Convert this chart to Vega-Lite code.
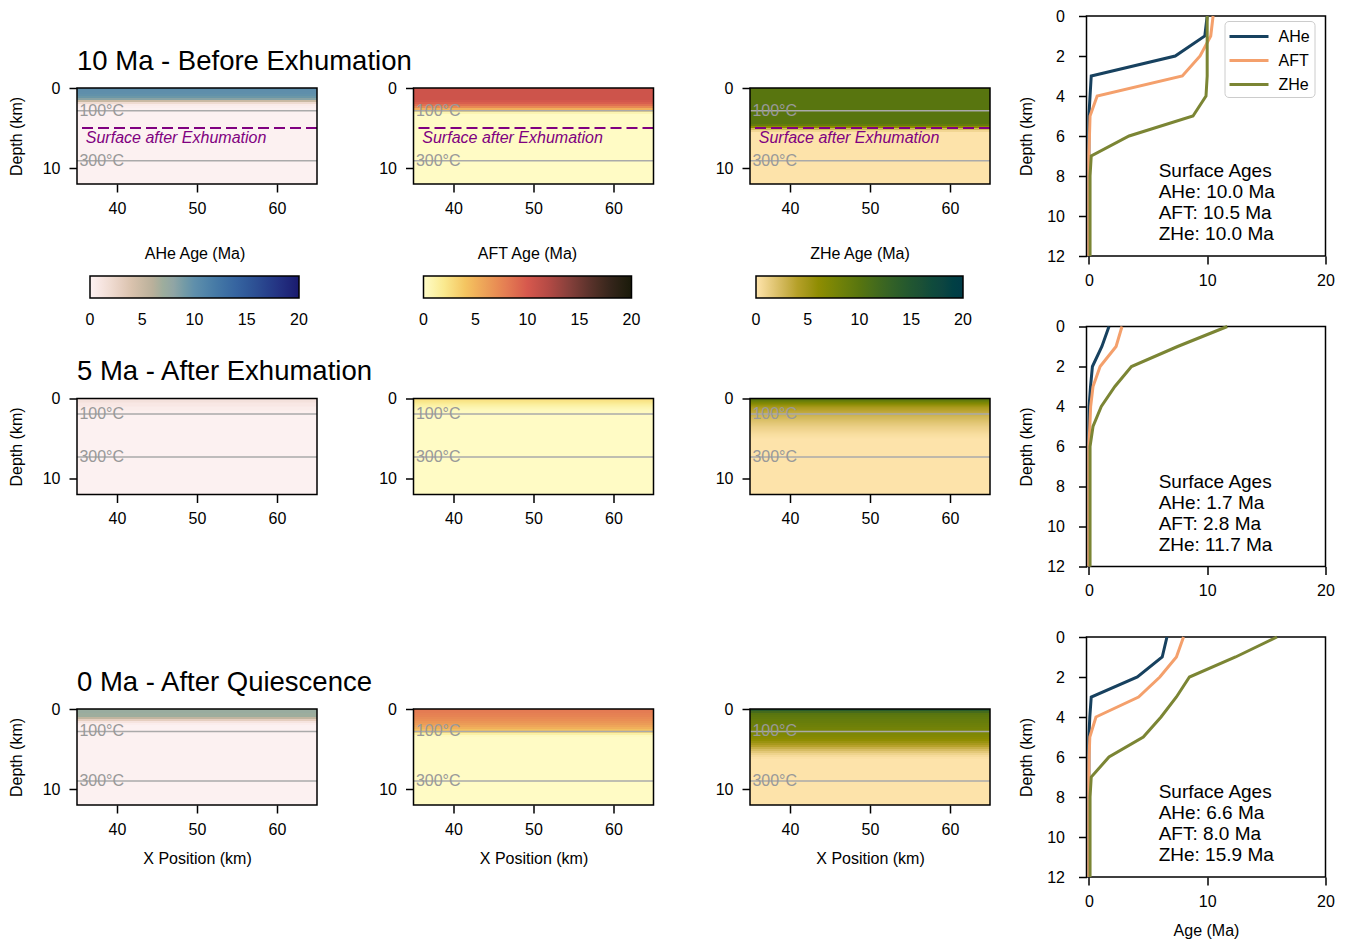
{
  "$schema": "https://vega.github.io/schema/vega-lite/v6.json",
  "background": "white",
  "padding": {"left": 8, "top": 7, "right": 5, "bottom": 5},
  "datasets": {
    "cells": [
      {"t":"10","s":"AHe","d0":0,"d1":0.25,"a":10.2},
      {"t":"10","s":"AHe","d0":0.25,"d1":0.5,"a":10.1},
      {"t":"10","s":"AHe","d0":0.5,"d1":0.75,"a":10},
      {"t":"10","s":"AHe","d0":0.75,"d1":1,"a":9.8},
      {"t":"10","s":"AHe","d0":1,"d1":1.25,"a":9.4},
      {"t":"10","s":"AHe","d0":1.25,"d1":1.5,"a":8.3},
      {"t":"10","s":"AHe","d0":1.5,"d1":1.75,"a":5},
      {"t":"10","s":"AHe","d0":1.75,"d1":2,"a":2},
      {"t":"10","s":"AHe","d0":2,"d1":2.25,"a":0.6},
      {"t":"10","s":"AHe","d0":2.25,"d1":2.5,"a":0.3},
      {"t":"10","s":"AHe","d0":2.5,"d1":12,"a":0.1},
      {"t":"10","s":"AFT","d0":0,"d1":1.5,"a":10.5},
      {"t":"10","s":"AFT","d0":1.5,"d1":1.75,"a":10.2},
      {"t":"10","s":"AFT","d0":1.75,"d1":2,"a":9.6},
      {"t":"10","s":"AFT","d0":2,"d1":2.25,"a":8.6},
      {"t":"10","s":"AFT","d0":2.25,"d1":2.5,"a":7.2},
      {"t":"10","s":"AFT","d0":2.5,"d1":2.75,"a":5.2},
      {"t":"10","s":"AFT","d0":2.75,"d1":3,"a":2.5},
      {"t":"10","s":"AFT","d0":3,"d1":3.25,"a":0.8},
      {"t":"10","s":"AFT","d0":3.25,"d1":12,"a":0.1},
      {"t":"10","s":"ZHe","d0":0,"d1":4.5,"a":10},
      {"t":"10","s":"ZHe","d0":4.5,"d1":4.75,"a":9},
      {"t":"10","s":"ZHe","d0":4.75,"d1":5,"a":6},
      {"t":"10","s":"ZHe","d0":5,"d1":5.25,"a":2.5},
      {"t":"10","s":"ZHe","d0":5.25,"d1":5.5,"a":0.8},
      {"t":"10","s":"ZHe","d0":5.5,"d1":12,"a":0.1},
      {"t":"5","s":"AHe","d0":0,"d1":0.5,"a":1.4},
      {"t":"5","s":"AHe","d0":0.5,"d1":1,"a":0.9},
      {"t":"5","s":"AHe","d0":1,"d1":1.5,"a":0.5},
      {"t":"5","s":"AHe","d0":1.5,"d1":2,"a":0.25},
      {"t":"5","s":"AHe","d0":2,"d1":12,"a":0.1},
      {"t":"5","s":"AFT","d0":0,"d1":0.25,"a":2.6},
      {"t":"5","s":"AFT","d0":0.25,"d1":0.5,"a":2.2},
      {"t":"5","s":"AFT","d0":0.5,"d1":0.75,"a":1.7},
      {"t":"5","s":"AFT","d0":0.75,"d1":1,"a":1.2},
      {"t":"5","s":"AFT","d0":1,"d1":1.25,"a":0.8},
      {"t":"5","s":"AFT","d0":1.25,"d1":1.5,"a":0.5},
      {"t":"5","s":"AFT","d0":1.5,"d1":2,"a":0.3},
      {"t":"5","s":"AFT","d0":2,"d1":12,"a":0.1},
      {"t":"5","s":"ZHe","d0":0,"d1":0.25,"a":10},
      {"t":"5","s":"ZHe","d0":0.25,"d1":0.5,"a":8.3},
      {"t":"5","s":"ZHe","d0":0.5,"d1":0.75,"a":6.8},
      {"t":"5","s":"ZHe","d0":0.75,"d1":1,"a":5.5},
      {"t":"5","s":"ZHe","d0":1,"d1":1.25,"a":4.6},
      {"t":"5","s":"ZHe","d0":1.25,"d1":1.5,"a":4},
      {"t":"5","s":"ZHe","d0":1.5,"d1":1.75,"a":3.6},
      {"t":"5","s":"ZHe","d0":1.75,"d1":2,"a":3.2},
      {"t":"5","s":"ZHe","d0":2,"d1":2.25,"a":2.85},
      {"t":"5","s":"ZHe","d0":2.25,"d1":2.5,"a":2.5},
      {"t":"5","s":"ZHe","d0":2.5,"d1":2.75,"a":2.2},
      {"t":"5","s":"ZHe","d0":2.75,"d1":3,"a":1.9},
      {"t":"5","s":"ZHe","d0":3,"d1":3.25,"a":1.6},
      {"t":"5","s":"ZHe","d0":3.25,"d1":3.5,"a":1.35},
      {"t":"5","s":"ZHe","d0":3.5,"d1":3.75,"a":1.1},
      {"t":"5","s":"ZHe","d0":3.75,"d1":4,"a":0.9},
      {"t":"5","s":"ZHe","d0":4,"d1":4.25,"a":0.7},
      {"t":"5","s":"ZHe","d0":4.25,"d1":4.5,"a":0.5},
      {"t":"5","s":"ZHe","d0":4.5,"d1":4.75,"a":0.35},
      {"t":"5","s":"ZHe","d0":4.75,"d1":5,"a":0.22},
      {"t":"5","s":"ZHe","d0":5,"d1":12,"a":0.1},
      {"t":"0","s":"AHe","d0":0,"d1":0.5,"a":7.2},
      {"t":"0","s":"AHe","d0":0.5,"d1":1,"a":7},
      {"t":"0","s":"AHe","d0":1,"d1":1.25,"a":5.5},
      {"t":"0","s":"AHe","d0":1.25,"d1":1.5,"a":3},
      {"t":"0","s":"AHe","d0":1.5,"d1":1.75,"a":1.2},
      {"t":"0","s":"AHe","d0":1.75,"d1":2,"a":0.4},
      {"t":"0","s":"AHe","d0":2,"d1":12,"a":0.1},
      {"t":"0","s":"AFT","d0":0,"d1":0.25,"a":8.1},
      {"t":"0","s":"AFT","d0":0.25,"d1":0.5,"a":8},
      {"t":"0","s":"AFT","d0":0.5,"d1":0.75,"a":7.8},
      {"t":"0","s":"AFT","d0":0.75,"d1":1,"a":7.6},
      {"t":"0","s":"AFT","d0":1,"d1":1.25,"a":7.3},
      {"t":"0","s":"AFT","d0":1.25,"d1":1.5,"a":7},
      {"t":"0","s":"AFT","d0":1.5,"d1":1.75,"a":6.6},
      {"t":"0","s":"AFT","d0":1.75,"d1":2,"a":6.2},
      {"t":"0","s":"AFT","d0":2,"d1":2.25,"a":5.7},
      {"t":"0","s":"AFT","d0":2.25,"d1":2.5,"a":5.1},
      {"t":"0","s":"AFT","d0":2.5,"d1":2.75,"a":4.3},
      {"t":"0","s":"AFT","d0":2.75,"d1":3,"a":3},
      {"t":"0","s":"AFT","d0":3,"d1":3.25,"a":1.2},
      {"t":"0","s":"AFT","d0":3.25,"d1":3.5,"a":0.3},
      {"t":"0","s":"AFT","d0":3.5,"d1":12,"a":0.1},
      {"t":"0","s":"ZHe","d0":0,"d1":0.25,"a":14},
      {"t":"0","s":"ZHe","d0":0.25,"d1":0.5,"a":11.5},
      {"t":"0","s":"ZHe","d0":0.5,"d1":0.75,"a":10},
      {"t":"0","s":"ZHe","d0":0.75,"d1":1,"a":9.6},
      {"t":"0","s":"ZHe","d0":1,"d1":1.25,"a":9.3},
      {"t":"0","s":"ZHe","d0":1.25,"d1":1.5,"a":9},
      {"t":"0","s":"ZHe","d0":1.5,"d1":1.75,"a":8.8},
      {"t":"0","s":"ZHe","d0":1.75,"d1":2,"a":8.5},
      {"t":"0","s":"ZHe","d0":2,"d1":2.25,"a":8.3},
      {"t":"0","s":"ZHe","d0":2.25,"d1":2.5,"a":8},
      {"t":"0","s":"ZHe","d0":2.5,"d1":2.75,"a":7.8},
      {"t":"0","s":"ZHe","d0":2.75,"d1":3,"a":7.5},
      {"t":"0","s":"ZHe","d0":3,"d1":3.25,"a":7.2},
      {"t":"0","s":"ZHe","d0":3.25,"d1":3.5,"a":6.9},
      {"t":"0","s":"ZHe","d0":3.5,"d1":3.75,"a":6.5},
      {"t":"0","s":"ZHe","d0":3.75,"d1":4,"a":6},
      {"t":"0","s":"ZHe","d0":4,"d1":4.25,"a":5.4},
      {"t":"0","s":"ZHe","d0":4.25,"d1":4.5,"a":4.7},
      {"t":"0","s":"ZHe","d0":4.5,"d1":4.75,"a":3.9},
      {"t":"0","s":"ZHe","d0":4.75,"d1":5,"a":3.1},
      {"t":"0","s":"ZHe","d0":5,"d1":5.25,"a":2.3},
      {"t":"0","s":"ZHe","d0":5.25,"d1":5.5,"a":1.6},
      {"t":"0","s":"ZHe","d0":5.5,"d1":5.75,"a":1},
      {"t":"0","s":"ZHe","d0":5.75,"d1":6,"a":0.55},
      {"t":"0","s":"ZHe","d0":6,"d1":6.25,"a":0.25},
      {"t":"0","s":"ZHe","d0":6.25,"d1":12,"a":0.1}
    ],
    "iso": [
      {"t":"10","depth":2.85,"label":"100°C"},
      {"t":"10","depth":9.1,"label":"300°C"},
      {"t":"5","depth":1.95,"label":"100°C"},
      {"t":"5","depth":7.3,"label":"300°C"},
      {"t":"0","depth":2.8,"label":"100°C"},
      {"t":"0","depth":9.0,"label":"300°C"}
    ],
    "exh": [
      {"t":"10","depth":5,"label":"Surface after Exhumation"}
    ],
    "frame": [
      {"x0":35,"x1":65,"y0":0,"y1":12}
    ],
    "prof": [
      {"t":"10","s":"AHe","d":0,"a":10.0},{"t":"10","s":"AHe","d":1,"a":9.8},{"t":"10","s":"AHe","d":2,"a":7.3},{"t":"10","s":"AHe","d":3,"a":0.2},{"t":"10","s":"AHe","d":4,"a":0.1},{"t":"10","s":"AHe","d":5,"a":0},{"t":"10","s":"AHe","d":6,"a":0},{"t":"10","s":"AHe","d":7,"a":0},{"t":"10","s":"AHe","d":8,"a":0},{"t":"10","s":"AHe","d":9,"a":0},{"t":"10","s":"AHe","d":10,"a":0},{"t":"10","s":"AHe","d":11,"a":0},{"t":"10","s":"AHe","d":12,"a":0},
      {"t":"10","s":"AFT","d":0,"a":10.5},{"t":"10","s":"AFT","d":1,"a":10.3},{"t":"10","s":"AFT","d":2,"a":9.4},{"t":"10","s":"AFT","d":3,"a":7.9},{"t":"10","s":"AFT","d":4,"a":0.7},{"t":"10","s":"AFT","d":5,"a":0.1},{"t":"10","s":"AFT","d":6,"a":0.05},{"t":"10","s":"AFT","d":7,"a":0},{"t":"10","s":"AFT","d":8,"a":0},{"t":"10","s":"AFT","d":9,"a":0},{"t":"10","s":"AFT","d":10,"a":0},{"t":"10","s":"AFT","d":11,"a":0},{"t":"10","s":"AFT","d":12,"a":0},
      {"t":"10","s":"ZHe","d":0,"a":10.0},{"t":"10","s":"ZHe","d":1,"a":10.0},{"t":"10","s":"ZHe","d":2,"a":10.0},{"t":"10","s":"ZHe","d":3,"a":10.0},{"t":"10","s":"ZHe","d":4,"a":9.9},{"t":"10","s":"ZHe","d":5,"a":8.8},{"t":"10","s":"ZHe","d":6,"a":3.4},{"t":"10","s":"ZHe","d":7,"a":0.2},{"t":"10","s":"ZHe","d":8,"a":0.1},{"t":"10","s":"ZHe","d":9,"a":0.1},{"t":"10","s":"ZHe","d":10,"a":0.1},{"t":"10","s":"ZHe","d":11,"a":0.1},{"t":"10","s":"ZHe","d":12,"a":0.1},
      {"t":"5","s":"AHe","d":0,"a":1.7},{"t":"5","s":"AHe","d":1,"a":1.1},{"t":"5","s":"AHe","d":2,"a":0.3},{"t":"5","s":"AHe","d":3,"a":0.14},{"t":"5","s":"AHe","d":4,"a":0.02},{"t":"5","s":"AHe","d":5,"a":0},{"t":"5","s":"AHe","d":6,"a":0},{"t":"5","s":"AHe","d":7,"a":0},{"t":"5","s":"AHe","d":8,"a":0},{"t":"5","s":"AHe","d":9,"a":0},{"t":"5","s":"AHe","d":10,"a":0},{"t":"5","s":"AHe","d":11,"a":0},{"t":"5","s":"AHe","d":12,"a":0},
      {"t":"5","s":"AFT","d":0,"a":2.8},{"t":"5","s":"AFT","d":1,"a":2.3},{"t":"5","s":"AFT","d":2,"a":0.95},{"t":"5","s":"AFT","d":3,"a":0.35},{"t":"5","s":"AFT","d":4,"a":0.15},{"t":"5","s":"AFT","d":5,"a":0.08},{"t":"5","s":"AFT","d":6,"a":0},{"t":"5","s":"AFT","d":7,"a":0},{"t":"5","s":"AFT","d":8,"a":0},{"t":"5","s":"AFT","d":9,"a":0},{"t":"5","s":"AFT","d":10,"a":0},{"t":"5","s":"AFT","d":11,"a":0},{"t":"5","s":"AFT","d":12,"a":0},
      {"t":"5","s":"ZHe","d":0,"a":11.7},{"t":"5","s":"ZHe","d":1,"a":7.5},{"t":"5","s":"ZHe","d":2,"a":3.6},{"t":"5","s":"ZHe","d":3,"a":2.2},{"t":"5","s":"ZHe","d":4,"a":1.05},{"t":"5","s":"ZHe","d":5,"a":0.35},{"t":"5","s":"ZHe","d":6,"a":0.1},{"t":"5","s":"ZHe","d":7,"a":0.1},{"t":"5","s":"ZHe","d":8,"a":0.1},{"t":"5","s":"ZHe","d":9,"a":0.1},{"t":"5","s":"ZHe","d":10,"a":0.1},{"t":"5","s":"ZHe","d":11,"a":0.1},{"t":"5","s":"ZHe","d":12,"a":0.1},
      {"t":"0","s":"AHe","d":0,"a":6.6},{"t":"0","s":"AHe","d":1,"a":6.2},{"t":"0","s":"AHe","d":2,"a":4.1},{"t":"0","s":"AHe","d":3,"a":0.2},{"t":"0","s":"AHe","d":4,"a":0.08},{"t":"0","s":"AHe","d":5,"a":0},{"t":"0","s":"AHe","d":6,"a":0},{"t":"0","s":"AHe","d":7,"a":0},{"t":"0","s":"AHe","d":8,"a":0},{"t":"0","s":"AHe","d":9,"a":0},{"t":"0","s":"AHe","d":10,"a":0},{"t":"0","s":"AHe","d":11,"a":0},{"t":"0","s":"AHe","d":12,"a":0},
      {"t":"0","s":"AFT","d":0,"a":8.0},{"t":"0","s":"AFT","d":1,"a":7.4},{"t":"0","s":"AFT","d":2,"a":6.0},{"t":"0","s":"AFT","d":3,"a":4.2},{"t":"0","s":"AFT","d":4,"a":0.6},{"t":"0","s":"AFT","d":5,"a":0.08},{"t":"0","s":"AFT","d":6,"a":0.02},{"t":"0","s":"AFT","d":7,"a":0},{"t":"0","s":"AFT","d":8,"a":0},{"t":"0","s":"AFT","d":9,"a":0},{"t":"0","s":"AFT","d":10,"a":0},{"t":"0","s":"AFT","d":11,"a":0},{"t":"0","s":"AFT","d":12,"a":0},
      {"t":"0","s":"ZHe","d":0,"a":15.9},{"t":"0","s":"ZHe","d":1,"a":12.4},{"t":"0","s":"ZHe","d":2,"a":8.5},{"t":"0","s":"ZHe","d":3,"a":7.4},{"t":"0","s":"ZHe","d":4,"a":6.1},{"t":"0","s":"ZHe","d":5,"a":4.6},{"t":"0","s":"ZHe","d":6,"a":1.7},{"t":"0","s":"ZHe","d":7,"a":0.2},{"t":"0","s":"ZHe","d":8,"a":0.1},{"t":"0","s":"ZHe","d":9,"a":0.1},{"t":"0","s":"ZHe","d":10,"a":0.1},{"t":"0","s":"ZHe","d":11,"a":0.1},{"t":"0","s":"ZHe","d":12,"a":0.1}
    ],
    "ages": [
      {"t":"10","txt":"Surface Ages\nAHe: 10.0 Ma\nAFT: 10.5 Ma\nZHe: 10.0 Ma"},
      {"t":"5","txt":"Surface Ages\nAHe: 1.7 Ma\nAFT: 2.8 Ma\nZHe: 11.7 Ma"},
      {"t":"0","txt":"Surface Ages\nAHe: 6.6 Ma\nAFT: 8.0 Ma\nZHe: 15.9 Ma"}
    ]
  },
  "columns": 4,
  "spacing": {"row": 70.5, "column": 96.5},
  "bounds": "flush",
  "resolve": {"scale": {"color": "independent"}},
  "concat": [
    {
      "width": 240, "height": 240, "view": {"stroke": null},
      "title": {"text": "10 Ma - Before Exhumation", "anchor": "start", "frame": "group", "fontSize": 27.5, "fontWeight": "normal", "baseline": "alphabetic", "offset": -81, "color": "black"},
      "layer": [
        {"data": {"name": "cells"}, "transform": [{"filter": "datum.t === '10' && datum.s === 'AHe'"}], "mark": {"type": "rect"},
         "encoding": {
           "x": {"datum": 35, "type": "quantitative", "scale": {"domain": [35, 65], "nice": false, "zero": false}, "axis": {"values": [40, 50, 60], "title": null, "offset": -72}},
           "x2": {"datum": 65},
           "y": {"field": "d0", "type": "quantitative", "scale": {"domain": [-9, 21], "reverse": true, "nice": false, "zero": false}, "axis": {"values": [0, 10], "title": "Depth (km)", "titlePadding": 18}},
           "y2": {"datum": 12},
           "color": {"field": "a", "type": "quantitative", "title": "AHe Age (Ma)",
             "scale": {"domain": [0,2,4,6,8,10,12,14,16,18,20], "range": ["#fdf2f2","#efdbd1","#d9c2ad","#b9b09b","#90a5a5","#5f8fab","#467aa6","#3664a0","#2c4d92","#243383","#1a1a6e"]},
             "legend": {"type": "gradient", "orient": "none", "legendX": 13, "legendY": 230, "direction": "horizontal", "gradientLength": 209, "gradientThickness": 22, "titleAnchor": "middle", "titlePadding": 14, "values": [0,5,10,15,20], "labelOffset": 14, "gradientStrokeColor": "black", "gradientStrokeWidth": 1.5, "encode": {"labels": {"update": {"align": {"value": "center"}}}}}}
         }},
        {"data": {"name": "iso"}, "transform": [{"filter": "datum.t === '10'"}], "mark": {"type": "rule", "color": "#aaaaaa", "strokeWidth": 1.5}, "encoding": {"y": {"field": "depth", "type": "quantitative"}}},
        {"data": {"name": "iso"}, "transform": [{"filter": "datum.t === '10'"}], "mark": {"type": "text", "align": "left", "baseline": "middle", "color": "#999999", "fontSize": 16}, "encoding": {"x": {"datum": 35.3, "type": "quantitative"}, "y": {"field": "depth", "type": "quantitative"}, "text": {"field": "label"}}},
        {"data": {"name": "exh"}, "mark": {"type": "rule", "color": "#800080", "strokeWidth": 2.2, "strokeDash": [11, 5]}, "encoding": {"y": {"field": "depth", "type": "quantitative"}}},
        {"data": {"name": "exh"}, "mark": {"type": "text", "align": "left", "baseline": "middle", "color": "#800080", "fontStyle": "italic", "fontSize": 16, "dy": 10}, "encoding": {"x": {"datum": 36.1, "type": "quantitative"}, "y": {"field": "depth", "type": "quantitative"}, "text": {"field": "label"}}},
        {"data": {"name": "frame"}, "mark": {"type": "rect", "filled": false, "color": "black", "strokeWidth": 1.5}, "encoding": {"x": {"field": "x0", "type": "quantitative"}, "x2": {"field": "x1"}, "y": {"field": "y0", "type": "quantitative"}, "y2": {"field": "y1"}}}
      ]
    },
    {
      "width": 240, "height": 240, "view": {"stroke": null},
      "layer": [
        {"data": {"name": "cells"}, "transform": [{"filter": "datum.t === '10' && datum.s === 'AFT'"}], "mark": {"type": "rect"},
         "encoding": {
           "x": {"datum": 35, "type": "quantitative", "scale": {"domain": [35, 65], "nice": false, "zero": false}, "axis": {"values": [40, 50, 60], "title": null, "offset": -72}},
           "x2": {"datum": 65},
           "y": {"field": "d0", "type": "quantitative", "scale": {"domain": [-9, 21], "reverse": true, "nice": false, "zero": false}, "axis": {"values": [0, 10], "title": null}},
           "y2": {"datum": 12},
           "color": {"field": "a", "type": "quantitative", "title": "AFT Age (Ma)",
             "scale": {"domain": [0,2,4,6,8,10,12,14,16,18,20], "range": ["#fffcc8","#fae98e","#f4c561","#eca058","#e47c53","#d6584d","#b44a45","#86403b","#5a322b","#35251b","#1a1a0a"]},
             "legend": {"type": "gradient", "orient": "none", "legendX": 10, "legendY": 230, "direction": "horizontal", "gradientLength": 208, "gradientThickness": 22, "titleAnchor": "middle", "titlePadding": 14, "values": [0,5,10,15,20], "labelOffset": 14, "gradientStrokeColor": "black", "gradientStrokeWidth": 1.5, "encode": {"labels": {"update": {"align": {"value": "center"}}}}}}
         }},
        {"data": {"name": "iso"}, "transform": [{"filter": "datum.t === '10'"}], "mark": {"type": "rule", "color": "#aaaaaa", "strokeWidth": 1.5}, "encoding": {"y": {"field": "depth", "type": "quantitative"}}},
        {"data": {"name": "iso"}, "transform": [{"filter": "datum.t === '10'"}], "mark": {"type": "text", "align": "left", "baseline": "middle", "color": "#999999", "fontSize": 16}, "encoding": {"x": {"datum": 35.3, "type": "quantitative"}, "y": {"field": "depth", "type": "quantitative"}, "text": {"field": "label"}}},
        {"data": {"name": "exh"}, "mark": {"type": "rule", "color": "#800080", "strokeWidth": 2.2, "strokeDash": [11, 5]}, "encoding": {"y": {"field": "depth", "type": "quantitative"}}},
        {"data": {"name": "exh"}, "mark": {"type": "text", "align": "left", "baseline": "middle", "color": "#800080", "fontStyle": "italic", "fontSize": 16, "dy": 10}, "encoding": {"x": {"datum": 36.1, "type": "quantitative"}, "y": {"field": "depth", "type": "quantitative"}, "text": {"field": "label"}}},
        {"data": {"name": "frame"}, "mark": {"type": "rect", "filled": false, "color": "black", "strokeWidth": 1.5}, "encoding": {"x": {"field": "x0", "type": "quantitative"}, "x2": {"field": "x1"}, "y": {"field": "y0", "type": "quantitative"}, "y2": {"field": "y1"}}}
      ]
    },
    {
      "width": 240, "height": 240, "view": {"stroke": null},
      "layer": [
        {"data": {"name": "cells"}, "transform": [{"filter": "datum.t === '10' && datum.s === 'ZHe'"}], "mark": {"type": "rect"},
         "encoding": {
           "x": {"datum": 35, "type": "quantitative", "scale": {"domain": [35, 65], "nice": false, "zero": false}, "axis": {"values": [40, 50, 60], "title": null, "offset": -72}},
           "x2": {"datum": 65},
           "y": {"field": "d0", "type": "quantitative", "scale": {"domain": [-9, 21], "reverse": true, "nice": false, "zero": false}, "axis": {"values": [0, 10], "title": null}},
           "y2": {"datum": 12},
           "color": {"field": "a", "type": "quantitative", "title": "ZHe Age (Ma)",
             "scale": {"domain": [0,2,4,6,8,10,12,14,16,18,20], "range": ["#ffe5ad","#dcc16b","#b5a028","#8f8d02","#728208","#58750f","#3f681f","#2a5c2b","#1b5036","#0d4540","#003b47"]},
             "legend": {"type": "gradient", "orient": "none", "legendX": 6, "legendY": 230, "direction": "horizontal", "gradientLength": 207, "gradientThickness": 22, "titleAnchor": "middle", "titlePadding": 14, "values": [0,5,10,15,20], "labelOffset": 14, "gradientStrokeColor": "black", "gradientStrokeWidth": 1.5, "encode": {"labels": {"update": {"align": {"value": "center"}}}}}}
         }},
        {"data": {"name": "iso"}, "transform": [{"filter": "datum.t === '10'"}], "mark": {"type": "rule", "color": "#aaaaaa", "strokeWidth": 1.5}, "encoding": {"y": {"field": "depth", "type": "quantitative"}}},
        {"data": {"name": "iso"}, "transform": [{"filter": "datum.t === '10'"}], "mark": {"type": "text", "align": "left", "baseline": "middle", "color": "#999999", "fontSize": 16}, "encoding": {"x": {"datum": 35.3, "type": "quantitative"}, "y": {"field": "depth", "type": "quantitative"}, "text": {"field": "label"}}},
        {"data": {"name": "exh"}, "mark": {"type": "rule", "color": "#800080", "strokeWidth": 2.2, "strokeDash": [11, 5]}, "encoding": {"y": {"field": "depth", "type": "quantitative"}}},
        {"data": {"name": "exh"}, "mark": {"type": "text", "align": "left", "baseline": "middle", "color": "#800080", "fontStyle": "italic", "fontSize": 16, "dy": 10}, "encoding": {"x": {"datum": 36.1, "type": "quantitative"}, "y": {"field": "depth", "type": "quantitative"}, "text": {"field": "label"}}},
        {"data": {"name": "frame"}, "mark": {"type": "rect", "filled": false, "color": "black", "strokeWidth": 1.5}, "encoding": {"x": {"field": "x0", "type": "quantitative"}, "x2": {"field": "x1"}, "y": {"field": "y0", "type": "quantitative"}, "y2": {"field": "y1"}}}
      ]
    },
    {
      "width": 239, "height": 240,
      "layer": [
        {"data": {"name": "prof"}, "transform": [{"filter": "datum.t === '10'"}], "mark": {"type": "line", "strokeWidth": 3},
         "encoding": {
           "x": {"field": "a", "type": "quantitative", "scale": {"domain": [-0.2, 20], "nice": false, "zero": false}, "axis": {"values": [0, 10, 20], "title": null}},
           "y": {"field": "d", "type": "quantitative", "scale": {"domain": [0, 12], "reverse": true, "nice": false, "zero": false}, "axis": {"values": [0,2,4,6,8,10,12], "labelOverlap": false, "title": "Depth (km)", "labelPadding": 14, "titlePadding": 12}},
           "color": {"field": "s", "type": "nominal", "scale": {"domain": ["AHe","AFT","ZHe"], "range": ["#17415f","#f4a06c","#7b8534"]},
             "legend": {"title": null, "orient": "none", "legendX": 138, "legendY": 5, "padding": 4, "symbolType": "M-1.95,0H1.95", "symbolSize": 400, "symbolStrokeWidth": 3, "symbolOffset": 9, "labelOffset": 18, "rowPadding": 4, "labelFontSize": 16, "strokeColor": "#cccccc", "fillColor": "#ffffff", "cornerRadius": 4}},
           "order": {"field": "d", "type": "quantitative"}
         }},
        {"data": {"name": "ages"}, "transform": [{"filter": "datum.t === '10'"}], "mark": {"type": "text", "align": "left", "baseline": "alphabetic", "fontSize": 19, "lineBreak": "\n", "lineHeight": 21, "color": "black"},
         "encoding": {
           "x": {"datum": 5.9, "type": "quantitative", "axis": {"values": [0, 10, 20], "title": null}},
           "y": {"datum": 8.05, "type": "quantitative", "axis": {"values": [0,2,4,6,8,10,12], "labelOverlap": false, "title": "Depth (km)", "labelPadding": 14, "titlePadding": 12}},
           "text": {"field": "txt"}}}
      ]
    },
    {
      "width": 240, "height": 240, "view": {"stroke": null},
      "title": {"text": "5 Ma - After Exhumation", "anchor": "start", "frame": "group", "fontSize": 27.5, "fontWeight": "normal", "baseline": "alphabetic", "offset": -81, "color": "black"},
      "layer": [
        {"data": {"name": "cells"}, "transform": [{"filter": "datum.t === '5' && datum.s === 'AHe'"}], "mark": {"type": "rect"},
         "encoding": {
           "x": {"datum": 35, "type": "quantitative", "scale": {"domain": [35, 65], "nice": false, "zero": false}, "axis": {"values": [40, 50, 60], "title": null, "offset": -72}},
           "x2": {"datum": 65},
           "y": {"field": "d0", "type": "quantitative", "scale": {"domain": [-9, 21], "reverse": true, "nice": false, "zero": false}, "axis": {"values": [0, 10], "title": "Depth (km)", "titlePadding": 18}},
           "y2": {"datum": 12},
           "color": {"field": "a", "type": "quantitative", "legend": null,
             "scale": {"domain": [0,2,4,6,8,10,12,14,16,18,20], "range": ["#fdf2f2","#efdbd1","#d9c2ad","#b9b09b","#90a5a5","#5f8fab","#467aa6","#3664a0","#2c4d92","#243383","#1a1a6e"]}}
         }},
        {"data": {"name": "iso"}, "transform": [{"filter": "datum.t === '5'"}], "mark": {"type": "rule", "color": "#aaaaaa", "strokeWidth": 1.5}, "encoding": {"y": {"field": "depth", "type": "quantitative"}}},
        {"data": {"name": "iso"}, "transform": [{"filter": "datum.t === '5'"}], "mark": {"type": "text", "align": "left", "baseline": "middle", "color": "#999999", "fontSize": 16}, "encoding": {"x": {"datum": 35.3, "type": "quantitative"}, "y": {"field": "depth", "type": "quantitative"}, "text": {"field": "label"}}},
        {"data": {"name": "frame"}, "mark": {"type": "rect", "filled": false, "color": "black", "strokeWidth": 1.5}, "encoding": {"x": {"field": "x0", "type": "quantitative"}, "x2": {"field": "x1"}, "y": {"field": "y0", "type": "quantitative"}, "y2": {"field": "y1"}}}
      ]
    },
    {
      "width": 240, "height": 240, "view": {"stroke": null},
      "layer": [
        {"data": {"name": "cells"}, "transform": [{"filter": "datum.t === '5' && datum.s === 'AFT'"}], "mark": {"type": "rect"},
         "encoding": {
           "x": {"datum": 35, "type": "quantitative", "scale": {"domain": [35, 65], "nice": false, "zero": false}, "axis": {"values": [40, 50, 60], "title": null, "offset": -72}},
           "x2": {"datum": 65},
           "y": {"field": "d0", "type": "quantitative", "scale": {"domain": [-9, 21], "reverse": true, "nice": false, "zero": false}, "axis": {"values": [0, 10], "title": null}},
           "y2": {"datum": 12},
           "color": {"field": "a", "type": "quantitative", "legend": null,
             "scale": {"domain": [0,2,4,6,8,10,12,14,16,18,20], "range": ["#fffcc8","#fae98e","#f4c561","#eca058","#e47c53","#d6584d","#b44a45","#86403b","#5a322b","#35251b","#1a1a0a"]}}
         }},
        {"data": {"name": "iso"}, "transform": [{"filter": "datum.t === '5'"}], "mark": {"type": "rule", "color": "#aaaaaa", "strokeWidth": 1.5}, "encoding": {"y": {"field": "depth", "type": "quantitative"}}},
        {"data": {"name": "iso"}, "transform": [{"filter": "datum.t === '5'"}], "mark": {"type": "text", "align": "left", "baseline": "middle", "color": "#999999", "fontSize": 16}, "encoding": {"x": {"datum": 35.3, "type": "quantitative"}, "y": {"field": "depth", "type": "quantitative"}, "text": {"field": "label"}}},
        {"data": {"name": "frame"}, "mark": {"type": "rect", "filled": false, "color": "black", "strokeWidth": 1.5}, "encoding": {"x": {"field": "x0", "type": "quantitative"}, "x2": {"field": "x1"}, "y": {"field": "y0", "type": "quantitative"}, "y2": {"field": "y1"}}}
      ]
    },
    {
      "width": 240, "height": 240, "view": {"stroke": null},
      "layer": [
        {"data": {"name": "cells"}, "transform": [{"filter": "datum.t === '5' && datum.s === 'ZHe'"}], "mark": {"type": "rect"},
         "encoding": {
           "x": {"datum": 35, "type": "quantitative", "scale": {"domain": [35, 65], "nice": false, "zero": false}, "axis": {"values": [40, 50, 60], "title": null, "offset": -72}},
           "x2": {"datum": 65},
           "y": {"field": "d0", "type": "quantitative", "scale": {"domain": [-9, 21], "reverse": true, "nice": false, "zero": false}, "axis": {"values": [0, 10], "title": null}},
           "y2": {"datum": 12},
           "color": {"field": "a", "type": "quantitative", "legend": null,
             "scale": {"domain": [0,2,4,6,8,10,12,14,16,18,20], "range": ["#ffe5ad","#dcc16b","#b5a028","#8f8d02","#728208","#58750f","#3f681f","#2a5c2b","#1b5036","#0d4540","#003b47"]}}
         }},
        {"data": {"name": "iso"}, "transform": [{"filter": "datum.t === '5'"}], "mark": {"type": "rule", "color": "#aaaaaa", "strokeWidth": 1.5}, "encoding": {"y": {"field": "depth", "type": "quantitative"}}},
        {"data": {"name": "iso"}, "transform": [{"filter": "datum.t === '5'"}], "mark": {"type": "text", "align": "left", "baseline": "middle", "color": "#999999", "fontSize": 16}, "encoding": {"x": {"datum": 35.3, "type": "quantitative"}, "y": {"field": "depth", "type": "quantitative"}, "text": {"field": "label"}}},
        {"data": {"name": "frame"}, "mark": {"type": "rect", "filled": false, "color": "black", "strokeWidth": 1.5}, "encoding": {"x": {"field": "x0", "type": "quantitative"}, "x2": {"field": "x1"}, "y": {"field": "y0", "type": "quantitative"}, "y2": {"field": "y1"}}}
      ]
    },
    {
      "width": 239, "height": 240,
      "layer": [
        {"data": {"name": "prof"}, "transform": [{"filter": "datum.t === '5'"}], "mark": {"type": "line", "strokeWidth": 3},
         "encoding": {
           "x": {"field": "a", "type": "quantitative", "scale": {"domain": [-0.2, 20], "nice": false, "zero": false}, "axis": {"values": [0, 10, 20], "title": null}},
           "y": {"field": "d", "type": "quantitative", "scale": {"domain": [0, 12], "reverse": true, "nice": false, "zero": false}, "axis": {"values": [0,2,4,6,8,10,12], "labelOverlap": false, "title": "Depth (km)", "labelPadding": 14, "titlePadding": 12}},
           "color": {"field": "s", "type": "nominal", "scale": {"domain": ["AHe","AFT","ZHe"], "range": ["#17415f","#f4a06c","#7b8534"]}, "legend": null},
           "order": {"field": "d", "type": "quantitative"}
         }},
        {"data": {"name": "ages"}, "transform": [{"filter": "datum.t === '5'"}], "mark": {"type": "text", "align": "left", "baseline": "alphabetic", "fontSize": 19, "lineBreak": "\n", "lineHeight": 21, "color": "black"},
         "encoding": {
           "x": {"datum": 5.9, "type": "quantitative", "axis": {"values": [0, 10, 20], "title": null}},
           "y": {"datum": 8.05, "type": "quantitative", "axis": {"values": [0,2,4,6,8,10,12], "labelOverlap": false, "title": "Depth (km)", "labelPadding": 14, "titlePadding": 12}},
           "text": {"field": "txt"}}}
      ]
    },
    {
      "width": 240, "height": 240, "view": {"stroke": null},
      "title": {"text": "0 Ma - After Quiescence", "anchor": "start", "frame": "group", "fontSize": 27.5, "fontWeight": "normal", "baseline": "alphabetic", "offset": -81, "color": "black"},
      "layer": [
        {"data": {"name": "cells"}, "transform": [{"filter": "datum.t === '0' && datum.s === 'AHe'"}], "mark": {"type": "rect"},
         "encoding": {
           "x": {"datum": 35, "type": "quantitative", "scale": {"domain": [35, 65], "nice": false, "zero": false}, "axis": {"values": [40, 50, 60], "title": "X Position (km)", "offset": -72}},
           "x2": {"datum": 65},
           "y": {"field": "d0", "type": "quantitative", "scale": {"domain": [-9, 21], "reverse": true, "nice": false, "zero": false}, "axis": {"values": [0, 10], "title": "Depth (km)", "titlePadding": 18}},
           "y2": {"datum": 12},
           "color": {"field": "a", "type": "quantitative", "legend": null,
             "scale": {"domain": [0,2,4,6,8,10,12,14,16,18,20], "range": ["#fdf2f2","#efdbd1","#d9c2ad","#b9b09b","#90a5a5","#5f8fab","#467aa6","#3664a0","#2c4d92","#243383","#1a1a6e"]}}
         }},
        {"data": {"name": "iso"}, "transform": [{"filter": "datum.t === '0'"}], "mark": {"type": "rule", "color": "#aaaaaa", "strokeWidth": 1.5}, "encoding": {"y": {"field": "depth", "type": "quantitative"}}},
        {"data": {"name": "iso"}, "transform": [{"filter": "datum.t === '0'"}], "mark": {"type": "text", "align": "left", "baseline": "middle", "color": "#999999", "fontSize": 16}, "encoding": {"x": {"datum": 35.3, "type": "quantitative"}, "y": {"field": "depth", "type": "quantitative"}, "text": {"field": "label"}}},
        {"data": {"name": "frame"}, "mark": {"type": "rect", "filled": false, "color": "black", "strokeWidth": 1.5}, "encoding": {"x": {"field": "x0", "type": "quantitative"}, "x2": {"field": "x1"}, "y": {"field": "y0", "type": "quantitative"}, "y2": {"field": "y1"}}}
      ]
    },
    {
      "width": 240, "height": 240, "view": {"stroke": null},
      "layer": [
        {"data": {"name": "cells"}, "transform": [{"filter": "datum.t === '0' && datum.s === 'AFT'"}], "mark": {"type": "rect"},
         "encoding": {
           "x": {"datum": 35, "type": "quantitative", "scale": {"domain": [35, 65], "nice": false, "zero": false}, "axis": {"values": [40, 50, 60], "title": "X Position (km)", "offset": -72}},
           "x2": {"datum": 65},
           "y": {"field": "d0", "type": "quantitative", "scale": {"domain": [-9, 21], "reverse": true, "nice": false, "zero": false}, "axis": {"values": [0, 10], "title": null}},
           "y2": {"datum": 12},
           "color": {"field": "a", "type": "quantitative", "legend": null,
             "scale": {"domain": [0,2,4,6,8,10,12,14,16,18,20], "range": ["#fffcc8","#fae98e","#f4c561","#eca058","#e47c53","#d6584d","#b44a45","#86403b","#5a322b","#35251b","#1a1a0a"]}}
         }},
        {"data": {"name": "iso"}, "transform": [{"filter": "datum.t === '0'"}], "mark": {"type": "rule", "color": "#aaaaaa", "strokeWidth": 1.5}, "encoding": {"y": {"field": "depth", "type": "quantitative"}}},
        {"data": {"name": "iso"}, "transform": [{"filter": "datum.t === '0'"}], "mark": {"type": "text", "align": "left", "baseline": "middle", "color": "#999999", "fontSize": 16}, "encoding": {"x": {"datum": 35.3, "type": "quantitative"}, "y": {"field": "depth", "type": "quantitative"}, "text": {"field": "label"}}},
        {"data": {"name": "frame"}, "mark": {"type": "rect", "filled": false, "color": "black", "strokeWidth": 1.5}, "encoding": {"x": {"field": "x0", "type": "quantitative"}, "x2": {"field": "x1"}, "y": {"field": "y0", "type": "quantitative"}, "y2": {"field": "y1"}}}
      ]
    },
    {
      "width": 240, "height": 240, "view": {"stroke": null},
      "layer": [
        {"data": {"name": "cells"}, "transform": [{"filter": "datum.t === '0' && datum.s === 'ZHe'"}], "mark": {"type": "rect"},
         "encoding": {
           "x": {"datum": 35, "type": "quantitative", "scale": {"domain": [35, 65], "nice": false, "zero": false}, "axis": {"values": [40, 50, 60], "title": "X Position (km)", "offset": -72}},
           "x2": {"datum": 65},
           "y": {"field": "d0", "type": "quantitative", "scale": {"domain": [-9, 21], "reverse": true, "nice": false, "zero": false}, "axis": {"values": [0, 10], "title": null}},
           "y2": {"datum": 12},
           "color": {"field": "a", "type": "quantitative", "legend": null,
             "scale": {"domain": [0,2,4,6,8,10,12,14,16,18,20], "range": ["#ffe5ad","#dcc16b","#b5a028","#8f8d02","#728208","#58750f","#3f681f","#2a5c2b","#1b5036","#0d4540","#003b47"]}}
         }},
        {"data": {"name": "iso"}, "transform": [{"filter": "datum.t === '0'"}], "mark": {"type": "rule", "color": "#aaaaaa", "strokeWidth": 1.5}, "encoding": {"y": {"field": "depth", "type": "quantitative"}}},
        {"data": {"name": "iso"}, "transform": [{"filter": "datum.t === '0'"}], "mark": {"type": "text", "align": "left", "baseline": "middle", "color": "#999999", "fontSize": 16}, "encoding": {"x": {"datum": 35.3, "type": "quantitative"}, "y": {"field": "depth", "type": "quantitative"}, "text": {"field": "label"}}},
        {"data": {"name": "frame"}, "mark": {"type": "rect", "filled": false, "color": "black", "strokeWidth": 1.5}, "encoding": {"x": {"field": "x0", "type": "quantitative"}, "x2": {"field": "x1"}, "y": {"field": "y0", "type": "quantitative"}, "y2": {"field": "y1"}}}
      ]
    },
    {
      "width": 239, "height": 240,
      "layer": [
        {"data": {"name": "prof"}, "transform": [{"filter": "datum.t === '0'"}], "mark": {"type": "line", "strokeWidth": 3},
         "encoding": {
           "x": {"field": "a", "type": "quantitative", "scale": {"domain": [-0.2, 20], "nice": false, "zero": false}, "axis": {"values": [0, 10, 20], "title": "Age (Ma)"}},
           "y": {"field": "d", "type": "quantitative", "scale": {"domain": [0, 12], "reverse": true, "nice": false, "zero": false}, "axis": {"values": [0,2,4,6,8,10,12], "labelOverlap": false, "title": "Depth (km)", "labelPadding": 14, "titlePadding": 12}},
           "color": {"field": "s", "type": "nominal", "scale": {"domain": ["AHe","AFT","ZHe"], "range": ["#17415f","#f4a06c","#7b8534"]}, "legend": null},
           "order": {"field": "d", "type": "quantitative"}
         }},
        {"data": {"name": "ages"}, "transform": [{"filter": "datum.t === '0'"}], "mark": {"type": "text", "align": "left", "baseline": "alphabetic", "fontSize": 19, "lineBreak": "\n", "lineHeight": 21, "color": "black"},
         "encoding": {
           "x": {"datum": 5.9, "type": "quantitative", "axis": {"values": [0, 10, 20], "title": "Age (Ma)"}},
           "y": {"datum": 8.05, "type": "quantitative", "axis": {"values": [0,2,4,6,8,10,12], "labelOverlap": false, "title": "Depth (km)", "labelPadding": 14, "titlePadding": 12}},
           "text": {"field": "txt"}}}
      ]
    }
  ],
  "config": {
    "font": "Liberation Sans",
    "view": {"stroke": "black", "strokeWidth": 1.5},
    "axis": {"grid": false, "domain": false, "tickColor": "black", "tickWidth": 1.5, "tickSize": 8, "labelFontSize": 16, "labelColor": "black", "labelPadding": 8, "labelFlush": false, "labelOverlap": false, "titleFontSize": 16, "titleFontWeight": "normal", "titleColor": "black", "titlePadding": 13},
    "axisY": {"labelPadding": 9},
    "legend": {"labelFontSize": 16, "titleFontSize": 16, "titleFontWeight": "normal", "labelColor": "black", "titleColor": "black"}
  }
}
